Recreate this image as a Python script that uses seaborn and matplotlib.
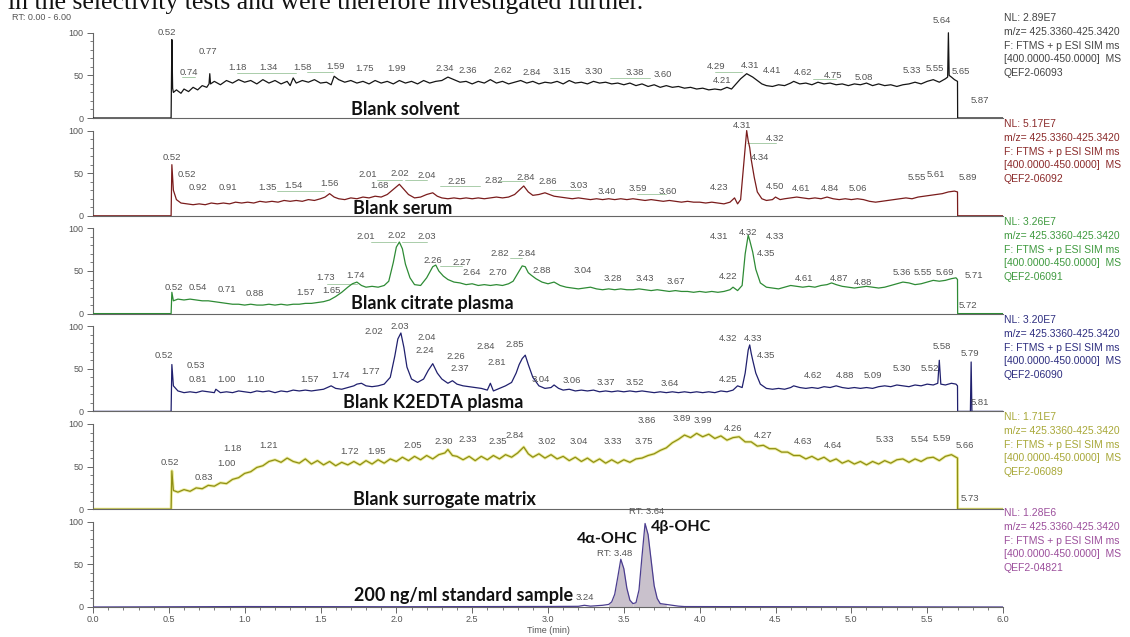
import numpy as np
import pandas as pd
import matplotlib
matplotlib.use("Agg")
import matplotlib.pyplot as plt
import seaborn as sns

# ------------------------------------------------------------------ data
panel_names = ["Blank solvent", "Blank serum", "Blank citrate plasma",
               "Blank K2EDTA plasma", "Blank surrogate matrix",
               "200 ng/ml standard sample"]
nl_values = ["NL: 2.89E7", "NL: 5.17E7", "NL: 3.26E7", "NL: 3.20E7", "NL: 1.71E7", "NL: 1.28E6"]
file_ids = ["QEF2-06093", "QEF2-06092", "QEF2-06091", "QEF2-06090", "QEF2-06089", "QEF2-04821"]
scan_lines = ["m/z= 425.3360-425.3420", "F: FTMS + p ESI SIM ms", "[400.0000-450.0000]  MS"]
x_tick_values = [0.0, 0.5, 1.0, 1.5, 2.0, 2.5, 3.0, 3.5, 4.0, 4.5, 5.0, 5.5, 6.0]
y_tick_values = [0, 50, 100]

solvent = [(0.00,0),(0.515,0),(0.52,92),(0.525,35),(0.53,30),(0.55,33),(0.58,29),(0.60,34),(0.63,31),(0.66,36),(0.69,33),(0.72,38),(0.75,36),(0.765,40),(0.77,52),(0.775,40),(0.80,43),(0.84,39),(0.88,44),(0.92,41),(0.96,45),(1.00,42),(1.04,44),(1.08,40),(1.12,45),(1.16,41),(1.20,44),(1.24,40),(1.28,43),(1.30,38),(1.32,47),(1.34,41),(1.38,44),(1.42,42),(1.46,45),(1.50,41),(1.54,42),(1.57,39),(1.59,49),(1.62,45),(1.66,42),(1.70,44),(1.74,41),(1.78,43),(1.82,40),(1.86,44),(1.90,41),(1.94,43),(1.98,40),(2.02,44),(2.06,41),(2.10,43),(2.14,40),(2.18,44),(2.22,41),(2.26,43),(2.30,44),(2.34,48),(2.38,45),(2.42,42),(2.46,43),(2.50,40),(2.54,43),(2.58,41),(2.62,45),(2.66,41),(2.70,43),(2.74,40),(2.78,42),(2.82,44),(2.86,41),(2.90,43),(2.94,40),(2.98,42),(3.02,41),(3.06,43),(3.10,40),(3.14,44),(3.18,41),(3.22,42),(3.26,40),(3.30,43),(3.34,41),(3.38,42),(3.42,40),(3.46,41),(3.50,39),(3.54,41),(3.58,38),(3.62,40),(3.66,37),(3.70,39),(3.74,36),(3.78,38),(3.82,36),(3.86,37),(3.90,35),(3.94,36),(3.98,34),(4.02,35),(4.06,33),(4.10,34),(4.14,33),(4.18,36),(4.21,34),(4.24,40),(4.27,46),(4.29,49),(4.31,52),(4.33,50),(4.35,48),(4.38,44),(4.41,40),(4.44,38),(4.48,37),(4.52,39),(4.56,38),(4.60,41),(4.62,43),(4.66,40),(4.70,41),(4.74,39),(4.78,42),(4.82,40),(4.86,41),(4.90,39),(4.94,40),(4.98,38),(5.02,40),(5.06,39),(5.10,41),(5.14,38),(5.18,40),(5.22,38),(5.26,39),(5.30,37),(5.34,39),(5.38,40),(5.42,42),(5.46,40),(5.50,43),(5.54,45),(5.58,42),(5.62,46),(5.635,48),(5.64,100),(5.645,50),(5.66,48),(5.68,45),(5.70,43),(5.701,0),(6.00,0)]

serum = [(0.00,0),(0.515,0),(0.52,60),(0.53,30),(0.55,19),(0.58,15),(0.62,14),(0.66,13),(0.70,14),(0.74,13),(0.78,15),(0.82,14),(0.86,15),(0.90,14),(0.94,16),(0.98,15),(1.02,16),(1.06,15),(1.10,17),(1.14,16),(1.18,17),(1.22,16),(1.26,18),(1.30,17),(1.34,18),(1.38,17),(1.42,19),(1.46,18),(1.50,20),(1.53,22),(1.56,26),(1.59,22),(1.62,20),(1.66,19),(1.70,21),(1.74,20),(1.78,22),(1.82,21),(1.86,23),(1.90,22),(1.94,25),(1.98,31),(2.02,37),(2.05,31),(2.08,25),(2.12,21),(2.16,22),(2.20,25),(2.24,27),(2.27,23),(2.30,21),(2.34,20),(2.38,21),(2.42,20),(2.46,21),(2.50,20),(2.54,21),(2.58,20),(2.62,21),(2.66,22),(2.70,21),(2.74,22),(2.78,25),(2.81,30),(2.84,35),(2.87,28),(2.90,24),(2.94,25),(2.98,27),(3.01,25),(3.04,23),(3.08,22),(3.12,21),(3.16,20),(3.20,21),(3.24,20),(3.28,19),(3.32,20),(3.36,19),(3.40,20),(3.44,19),(3.48,20),(3.52,19),(3.56,20),(3.60,19),(3.64,18),(3.68,19),(3.72,18),(3.76,17),(3.80,18),(3.84,17),(3.88,16),(3.92,17),(3.96,16),(4.00,16),(4.04,15),(4.08,16),(4.12,15),(4.16,14),(4.20,16),(4.23,21),(4.25,14),(4.27,19),(4.29,60),(4.31,100),(4.32,88),(4.33,80),(4.34,66),(4.36,45),(4.38,28),(4.41,20),(4.44,18),(4.48,19),(4.50,22),(4.53,19),(4.56,20),(4.60,21),(4.64,22),(4.68,21),(4.72,20),(4.76,21),(4.80,20),(4.84,22),(4.88,20),(4.92,19),(4.96,20),(5.00,19),(5.04,20),(5.08,19),(5.12,17),(5.16,16),(5.20,17),(5.24,18),(5.28,19),(5.32,20),(5.36,21),(5.40,20),(5.44,22),(5.48,23),(5.52,24),(5.56,25),(5.60,26),(5.64,28),(5.68,29),(5.70,28),(5.701,0),(6.00,0)]

citrate = [(0.00,0),(0.515,0),(0.52,25),(0.53,15),(0.56,17),(0.60,16),(0.64,17),(0.68,16),(0.72,15),(0.76,15),(0.80,14),(0.84,13),(0.88,12),(0.92,11),(0.96,11),(1.00,10),(1.04,11),(1.08,10),(1.12,10),(1.16,11),(1.20,10),(1.24,11),(1.28,10),(1.32,11),(1.36,11),(1.40,12),(1.44,12),(1.48,13),(1.52,14),(1.56,16),(1.60,20),(1.64,25),(1.68,31),(1.71,35),(1.74,37),(1.77,33),(1.80,31),(1.84,32),(1.88,31),(1.92,33),(1.95,38),(1.98,60),(2.00,78),(2.02,84),(2.04,76),(2.06,58),(2.09,42),(2.12,34),(2.16,33),(2.20,42),(2.24,55),(2.26,57),(2.28,50),(2.31,44),(2.34,40),(2.38,37),(2.42,36),(2.46,34),(2.50,35),(2.54,33),(2.58,34),(2.62,33),(2.66,34),(2.70,33),(2.74,35),(2.77,38),(2.80,47),(2.83,56),(2.85,55),(2.87,48),(2.89,45),(2.92,41),(2.96,37),(3.00,35),(3.04,37),(3.08,33),(3.12,31),(3.16,30),(3.20,29),(3.24,30),(3.28,31),(3.32,29),(3.36,28),(3.40,29),(3.44,28),(3.48,29),(3.52,28),(3.56,28),(3.60,29),(3.64,28),(3.68,27),(3.72,28),(3.76,27),(3.80,26),(3.84,27),(3.88,26),(3.92,26),(3.96,25),(4.00,26),(4.04,25),(4.08,26),(4.12,25),(4.16,26),(4.20,28),(4.22,31),(4.25,27),(4.28,33),(4.30,70),(4.32,92),(4.33,86),(4.35,72),(4.37,52),(4.40,36),(4.44,31),(4.48,30),(4.52,29),(4.56,31),(4.60,33),(4.64,32),(4.68,31),(4.72,32),(4.76,31),(4.80,33),(4.84,34),(4.87,36),(4.90,34),(4.94,32),(4.98,31),(5.02,30),(5.06,31),(5.10,32),(5.14,31),(5.18,30),(5.22,31),(5.26,33),(5.30,35),(5.34,37),(5.38,36),(5.42,34),(5.46,35),(5.50,37),(5.54,39),(5.58,38),(5.62,39),(5.66,41),(5.69,42),(5.70,40),(5.701,0),(6.00,0)]

edta = [(0.00,0),(0.515,0),(0.52,55),(0.53,30),(0.56,24),(0.60,22),(0.64,23),(0.68,22),(0.72,24),(0.76,23),(0.80,22),(0.81,26),(0.84,22),(0.88,23),(0.92,22),(0.96,24),(1.00,23),(1.04,22),(1.08,24),(1.12,23),(1.16,24),(1.20,22),(1.24,24),(1.28,23),(1.32,25),(1.36,24),(1.40,25),(1.44,24),(1.48,25),(1.52,26),(1.57,30),(1.60,27),(1.64,26),(1.68,28),(1.72,30),(1.74,32),(1.77,33),(1.80,30),(1.84,29),(1.88,30),(1.92,32),(1.96,40),(1.99,65),(2.01,85),(2.03,92),(2.05,75),(2.07,52),(2.10,38),(2.14,34),(2.18,38),(2.21,48),(2.24,56),(2.27,45),(2.30,38),(2.34,33),(2.37,36),(2.40,32),(2.44,30),(2.48,29),(2.52,28),(2.56,27),(2.60,25),(2.62,33),(2.64,24),(2.68,27),(2.72,30),(2.76,34),(2.79,45),(2.81,55),(2.83,62),(2.85,66),(2.87,55),(2.90,40),(2.94,30),(2.98,27),(3.02,28),(3.04,31),(3.07,27),(3.10,25),(3.14,26),(3.18,24),(3.22,25),(3.26,24),(3.30,25),(3.34,23),(3.38,24),(3.42,23),(3.46,24),(3.50,23),(3.54,24),(3.58,23),(3.62,24),(3.66,23),(3.70,22),(3.74,23),(3.78,22),(3.82,23),(3.86,22),(3.90,23),(3.94,22),(3.98,23),(4.02,22),(4.06,23),(4.10,22),(4.14,24),(4.18,23),(4.22,25),(4.25,30),(4.28,28),(4.30,45),(4.32,72),(4.33,78),(4.34,68),(4.35,60),(4.37,45),(4.40,32),(4.44,27),(4.48,26),(4.52,27),(4.56,26),(4.60,28),(4.62,30),(4.66,28),(4.70,27),(4.74,28),(4.78,27),(4.82,29),(4.86,28),(4.90,30),(4.94,28),(4.98,27),(5.02,28),(5.06,27),(5.10,28),(5.14,27),(5.18,29),(5.22,30),(5.26,29),(5.30,31),(5.34,30),(5.38,29),(5.42,31),(5.46,30),(5.50,32),(5.54,31),(5.57,33),(5.58,60),(5.59,32),(5.62,31),(5.66,33),(5.69,32),(5.70,30),(5.701,0),(5.785,0),(5.79,58),(5.795,0),(6.00,0)]

surrogate = [(0.00,0),(0.515,0),(0.52,45),(0.53,22),(0.56,20),(0.60,23),(0.64,21),(0.68,25),(0.72,24),(0.76,28),(0.80,27),(0.84,31),(0.88,30),(0.92,35),(0.96,37),(1.00,42),(1.04,44),(1.08,49),(1.12,51),(1.16,56),(1.20,58),(1.24,55),(1.28,60),(1.32,56),(1.36,54),(1.40,59),(1.44,53),(1.48,57),(1.52,52),(1.56,56),(1.60,51),(1.64,55),(1.68,52),(1.72,56),(1.76,52),(1.80,57),(1.84,53),(1.88,58),(1.92,54),(1.96,59),(2.00,56),(2.04,61),(2.08,57),(2.12,62),(2.16,58),(2.20,63),(2.24,59),(2.28,64),(2.32,66),(2.34,70),(2.37,63),(2.40,62),(2.44,58),(2.48,62),(2.52,57),(2.56,62),(2.60,58),(2.64,63),(2.68,59),(2.72,64),(2.76,61),(2.80,66),(2.84,73),(2.87,65),(2.90,61),(2.94,65),(2.98,60),(3.02,64),(3.06,59),(3.10,62),(3.14,57),(3.18,61),(3.22,56),(3.26,60),(3.30,55),(3.34,59),(3.38,54),(3.42,58),(3.46,54),(3.50,58),(3.54,55),(3.58,59),(3.62,60),(3.66,63),(3.70,65),(3.74,69),(3.78,72),(3.82,78),(3.86,82),(3.90,87),(3.94,84),(3.98,89),(4.02,85),(4.06,88),(4.10,83),(4.14,86),(4.18,81),(4.22,84),(4.26,85),(4.30,79),(4.34,79),(4.38,74),(4.42,75),(4.46,71),(4.50,71),(4.54,67),(4.58,67),(4.62,63),(4.66,63),(4.70,59),(4.74,62),(4.78,58),(4.82,61),(4.86,56),(4.90,59),(4.94,54),(4.98,57),(5.02,53),(5.06,56),(5.10,52),(5.14,56),(5.18,53),(5.22,57),(5.26,54),(5.30,58),(5.34,59),(5.38,55),(5.42,59),(5.46,56),(5.50,60),(5.54,61),(5.58,57),(5.62,62),(5.66,64),(5.69,61),(5.70,60),(5.701,0),(6.00,0)]

standard = [(0.00,0),(1.00,0.5),(2.00,0.3),(3.00,0.6),(3.20,0.8),(3.24,2),(3.28,1),(3.32,1.5),(3.36,2),(3.40,3),(3.42,6),(3.44,15),(3.46,35),(3.48,56),(3.50,45),(3.52,22),(3.54,8),(3.56,4),(3.58,5),(3.60,20),(3.62,60),(3.64,98),(3.66,85),(3.68,55),(3.70,25),(3.72,10),(3.74,4),(3.78,3),(3.82,2),(3.86,1),(3.90,0.5),(6.00,0)]

# retention-time annotations (text) and where they sit (time, % intensity)
solvent_rt = ["0.52","0.77","0.74","1.18","1.34","1.58","1.59","1.75","1.99","2.34","2.36","2.62","2.84","3.15","3.30","3.38","3.60","4.29","4.21","4.31","4.41","4.62","4.75","5.08","5.33","5.55","5.64","5.65","5.87"]
solvent_rt_xy = [(0.49,100),(0.76,78),(0.63,53),(0.95,59),(1.16,59),(1.38,59),(1.60,61),(1.79,58),(2.00,58),(2.32,58),(2.47,56),(2.70,56),(2.89,53),(3.09,54),(3.30,54),(3.57,53),(3.76,51),(4.11,60),(4.15,44),(4.33,62),(4.48,56),(4.68,53),(4.88,50),(5.08,48),(5.40,56),(5.55,58),(5.60,114),(5.72,55),(5.85,21)]

serum_rt = ["0.52","0.52","0.92","0.91","1.35","1.54","1.56","2.01","1.68","2.02","2.04","2.25","2.82","2.84","2.86","3.03","3.40","3.59","3.60","4.23","4.31","4.32","4.34","4.50","4.61","4.84","5.06","5.55","5.61","5.89"]
serum_rt_xy = [(0.52,68),(0.62,48),(0.69,33),(0.89,33),(1.15,33),(1.32,36),(1.56,38),(1.81,48),(1.89,35),(2.02,50),(2.20,47),(2.40,40),(2.64,42),(2.85,45),(3.00,40),(3.20,36),(3.39,29),(3.59,32),(3.79,29),(4.13,33),(4.28,106),(4.50,91),(4.40,68),(4.50,34),(4.67,32),(4.86,32),(5.04,32),(5.43,45),(5.56,48),(5.77,45)]

citrate_rt = ["0.52","0.54","0.71","0.88","1.57","1.65","1.73","1.74","2.01","2.02","2.03","2.26","2.27","2.64","2.70","2.82","2.84","2.88","3.04","3.28","3.43","3.67","4.22","4.31","4.32","4.33","4.35","4.61","4.87","4.88","5.36","5.55","5.69","5.71","5.72"]
citrate_rt_xy = [(0.53,31),(0.69,31),(0.88,28),(1.07,24),(1.40,25),(1.57,27),(1.53,42),(1.73,45),(1.80,90),(2.00,92),(2.20,90),(2.24,62),(2.43,60),(2.50,48),(2.67,48),(2.68,70),(2.86,70),(2.96,51),(3.23,51),(3.43,41),(3.64,41),(3.84,38),(4.19,43),(4.13,90),(4.32,95),(4.50,90),(4.44,71),(4.69,41),(4.92,41),(5.08,37),(5.33,48),(5.47,48),(5.62,48),(5.81,45),(5.77,9)]

edta_rt = ["0.52","0.53","0.81","1.00","1.10","1.57","1.74","1.77","2.02","2.03","2.04","2.24","2.26","2.37","2.84","2.85","2.81","3.04","3.06","3.37","3.52","3.64","4.25","4.32","4.33","4.35","4.62","4.88","5.09","5.30","5.52","5.58","5.79","5.81"]
edta_rt_xy = [(0.47,66),(0.68,54),(0.69,37),(0.88,37),(1.07,37),(1.43,37),(1.63,42),(1.83,47),(1.85,94),(2.02,100),(2.20,87),(2.19,71),(2.39,64),(2.42,50),(2.59,76),(2.78,78),(2.66,57),(2.95,37),(3.16,36),(3.38,34),(3.57,34),(3.80,33),(4.19,38),(4.19,86),(4.35,86),(4.44,66),(4.75,42),(4.96,42),(5.14,42),(5.33,50),(5.52,50),(5.60,76),(5.78,68),(5.85,11)]

surrogate_rt = ["0.52","0.83","1.00","1.18","1.21","1.72","1.95","2.05","2.30","2.33","2.35","2.84","3.02","3.04","3.33","3.75","3.86","3.89","3.99","4.26","4.27","4.63","4.64","5.33","5.54","5.59","5.66","5.73"]
surrogate_rt_xy = [(0.51,55),(0.73,37),(0.88,54),(0.92,71),(1.16,75),(1.69,68),(1.87,68),(2.11,75),(2.31,79),(2.47,82),(2.67,79),(2.78,87),(2.99,79),(3.20,79),(3.43,79),(3.63,79),(3.65,104),(3.88,106),(4.02,104),(4.22,95),(4.42,87),(4.68,80),(4.88,75),(5.22,82),(5.45,82),(5.60,83),(5.75,75),(5.78,12)]

standard_rt = ["3.24", "RT: 3.48", "RT: 3.64"]
standard_rt_xy = [(3.24,11),(3.44,63),(3.65,112)]
compound_names = ["4\u03b1-OHC", "4\u03b2-OHC"]
compound_xy = [(3.39,80),(3.88,94)]
peak_windows = [(3.40, 3.56), (3.56, 3.78)]

# thin leader lines drawn under groups of labels: (t_start, t_end, % level)
solvent_leaders = [(0.59,0.67,48),(0.95,1.34,53),(1.41,1.58,54),(3.41,3.67,47),(4.10,4.28,54),(4.75,4.90,46)]
serum_leaders = [(1.21,1.52,29),(1.87,2.04,42),(2.06,2.20,42),(2.29,2.55,35),(2.68,2.85,41),(3.01,3.21,30),(3.59,3.78,26),(4.31,4.50,85)]
citrate_leaders = [(1.54,1.74,35),(1.83,2.00,84),(2.04,2.20,84),(2.29,2.43,56),(2.75,2.83,65)]

traces = [solvent, serum, citrate, edta, surrogate, standard]
rt_texts = [solvent_rt, serum_rt, citrate_rt, edta_rt, surrogate_rt, standard_rt]
rt_positions = [solvent_rt_xy, serum_rt_xy, citrate_rt_xy, edta_rt_xy, surrogate_rt_xy, standard_rt_xy]
leaders = [solvent_leaders, serum_leaders, citrate_leaders, [], [], []]

# ------------------------------------------------------------------ style / layout
trace_colors = ["#151515", "#7a1c1c", "#2e8b35", "#20206e", "#8f8f14", "#4b3d8f"]
info_colors = ["#444444", "#8b2a2a", "#3f9a3f", "#2e2e80", "#a8a838", "#9c4f9c"]
name_xy = [(2.06, 10), (2.04, 8), (2.24, 12), (2.24, 10), (2.32, 11), (2.44, 13)]
info_top_px = [18, 124, 222, 320, 417, 513]

sns.set_theme(style="white")
plt.rcParams["font.family"] = ["Liberation Sans", "DejaVu Sans"]
narrow = ["Liberation Sans Narrow", "Liberation Sans", "DejaVu Sans"]

W, H = 1130, 637
fig = plt.figure(figsize=(W / 100, H / 100), dpi=100)
x0_px, x1_px = 93, 1003
base_px = [118, 215.8, 313.6, 411.4, 509.2, 607]
panel_h_px = 98
YMAX = 115
grey = "#555555"

for i in range(6):
    bottom = 1 - base_px[i] / H
    ax = fig.add_axes([x0_px / W, bottom, (x1_px - x0_px) / W, panel_h_px / H])
    ax.set_facecolor("none")
    df = pd.DataFrame(traces[i], columns=["time", "intensity"])
    if i == 5:
        t = df["time"].to_numpy()
        v = df["intensity"].to_numpy()
        for (a, b) in peak_windows:
            m = (t >= a) & (t <= b)
            ax.fill_between(t[m], v[m], color="#c9c1cc", lw=0, zorder=1)
    if i == 4:
        sns.lineplot(data=df, x="time", y="intensity", ax=ax, color="#e6e67a",
                     linewidth=2.2, alpha=0.7, estimator=None, sort=False, legend=False, zorder=2)
    sns.lineplot(data=df, x="time", y="intensity", ax=ax, color=trace_colors[i],
                 linewidth=0.9, estimator=None, sort=False, legend=False, zorder=3)
    for (a, b, lv) in leaders[i]:
        ax.plot([a, b], [lv, lv], color="#9cc59c", lw=0.6, zorder=2)
    ax.set_xlim(0, 6.0)
    ax.set_ylim(0, YMAX)
    ax.set_xlabel("")
    ax.set_ylabel("")
    for s in ["top", "right"]:
        ax.spines[s].set_visible(False)
    for s in ["left", "bottom"]:
        ax.spines[s].set_color("#666666")
        ax.spines[s].set_linewidth(0.8)
    ax.spines["left"].set_bounds(0, 100)
    ax.set_yticks(y_tick_values)
    ax.set_yticklabels([str(v) for v in y_tick_values])
    ax.set_yticks(list(range(0, 101, 10)), minor=True)
    ax.tick_params(axis="y", which="major", left=True, length=4, width=0.7, color="#666666",
                   labelsize=6.5, labelcolor=grey, pad=3)
    ax.tick_params(axis="y", which="minor", left=True, length=2, width=0.6, color="#666666")
    if i < 5:
        ax.tick_params(axis="x", which="both", bottom=False, labelbottom=False)
    else:
        ax.set_xticks(x_tick_values)
        ax.set_xticklabels([f"{v:.1f}" for v in x_tick_values])
        ax.set_xticks([k / 10 for k in range(0, 61)], minor=True)
        ax.tick_params(axis="x", which="major", bottom=True, length=4, width=0.7,
                       color="#666666", labelsize=6.5, labelcolor=grey, pad=2)
        ax.tick_params(axis="x", which="minor", bottom=True, length=2, width=0.6, color="#666666")
        ax.set_xlabel("Time (min)", fontsize=6.5, color=grey, labelpad=1)
    ax.grid(False)

    # retention time labels
    for s, (tx, ty) in zip(rt_texts[i], rt_positions[i]):
        ax.text(tx, ty, s, ha="center", va="center", fontsize=6.8, color=grey,
                family=narrow, clip_on=False, zorder=4)
    # sample name
    nx, ny = name_xy[i]
    ax.text(nx, ny, panel_names[i], ha="center", va="center", fontsize=13,
            fontweight="bold", family=["Lato", "DejaVu Sans"], color="#111111", zorder=5)
    if i == 5:
        for s, (cx, cy) in zip(compound_names, compound_xy):
            ax.text(cx, cy, s, ha="center", va="center", fontsize=11.5, fontweight="bold",
                    family=["Lato", "DejaVu Sans"], color="#111111", clip_on=False, zorder=5)

    # info block on the right
    lines = [nl_values[i]] + scan_lines + [file_ids[i]]
    for k, line in enumerate(lines):
        fig.text(1004 / W, 1 - (info_top_px[i] + 13.8 * k) / H, line, ha="left", va="center",
                 fontsize=7.5, color=info_colors[i])

fig.text(12 / W, 1 - 17 / H, "RT: 0.00 - 6.00", ha="left", va="center", fontsize=6.5, color=grey)
fig.text(8 / W, 1 - 8.5 / H, "in the selectivity tests and were therefore investigated further.",
         ha="left", va="baseline", fontsize=18.5, family=["Liberation Serif", "DejaVu Serif"], color="#111111")

fig.savefig("out.png", dpi=100)
